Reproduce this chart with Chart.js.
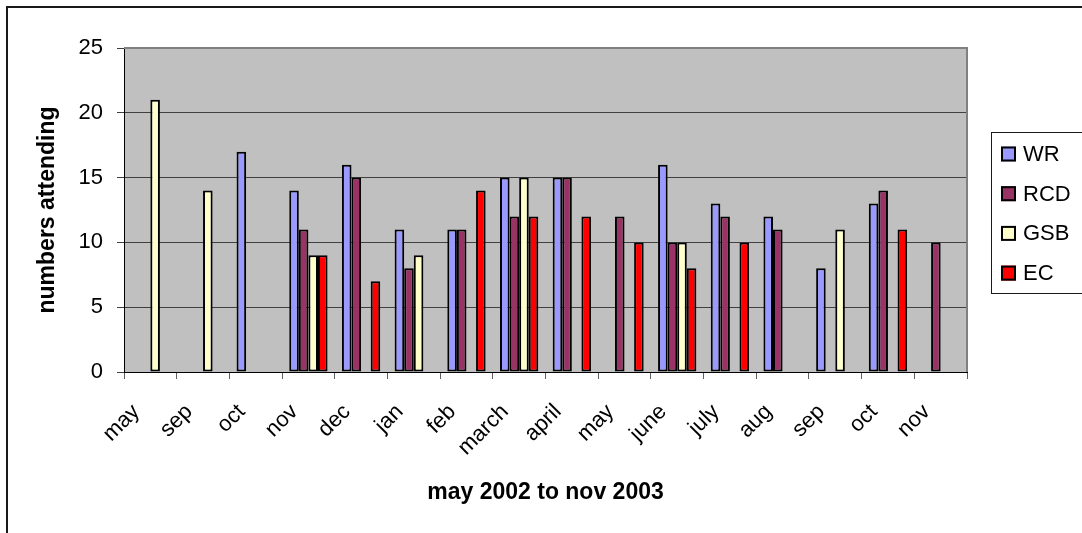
<!DOCTYPE html>
<html>
<head>
<meta charset="utf-8">
<script src="https://cdn.jsdelivr.net/npm/chart.js@4/dist/chart.umd.min.js"></script>
<style>
  html, body { margin: 0; padding: 0; background: #ffffff; }
  #wrap { width: 1082px; height: 533px; }
</style>
</head>
<body>
<div id="wrap"><canvas id="c" width="1082" height="533"></canvas></div>
<script>
// Attendance per meeting, May 2002 – Nov 2003
const categories = ['may', 'sep', 'oct', 'nov', 'dec', 'jan', 'feb', 'march', 'april', 'may', 'june', 'july', 'aug', 'sep', 'oct', 'nov'];
const wr  = [null, null, 17, 14, 16, 11, 11, 15, 15, null, 16, 13, 12, 8, 13, null];
const rcd = [null, null, null, 11, 15, 8, 11, 12, 15, 12, 10, 12, 11, null, 14, 10];
const gsb = [21, 14, null, 9, null, 9, null, 15, null, null, 10, null, null, 11, null, null];
const ec  = [null, null, null, 9, 7, null, 14, 12, 12, 10, 8, 10, null, null, 11, null];
const yTicks = [0, 5, 10, 15, 20, 25];

const FONT = "'Liberation Sans', Arial, sans-serif";

// Chart frame, grey plot background and the boxed legend on the right
const framePlugin = {
  id: 'frame',
  beforeDraw(chart) {
    const { ctx, chartArea: a } = chart;
    ctx.save();
    ctx.fillStyle = '#ffffff';
    ctx.fillRect(0, 0, chart.width, chart.height);
    ctx.strokeStyle = '#1a1a1a';
    ctx.lineWidth = 2;
    ctx.strokeRect(7, 7, chart.width + 20, chart.height + 20);
    ctx.fillStyle = '#c0c0c0';
    ctx.fillRect(a.left, a.top, a.right - a.left, a.bottom - a.top);
    ctx.restore();
  },
  afterDraw(chart) {
    const { ctx, chartArea: a } = chart;
    ctx.save();
    ctx.strokeStyle = '#808080';
    ctx.lineWidth = 2;
    ctx.beginPath();
    ctx.moveTo(a.left, a.top);
    ctx.lineTo(a.right, a.top);
    ctx.lineTo(a.right, a.bottom);
    ctx.stroke();

    // legend
    const lx = 991, ly = 132, lw = 140, lh = 161;
    ctx.strokeStyle = '#1a1a1a';
    ctx.lineWidth = 1;
    ctx.strokeRect(lx + 0.5, ly + 0.5, lw, lh);
    ctx.font = '22px ' + FONT;
    ctx.textBaseline = 'middle';
    ctx.textAlign = 'left';
    chart.data.datasets.forEach((ds, i) => {
      const cy = 154 + i * 39.7;
      ctx.fillStyle = ds.backgroundColor;
      ctx.fillRect(1001, cy - 7.5, 15, 15);
      ctx.strokeStyle = '#000';
      ctx.lineWidth = 2;
      ctx.strokeRect(1002, cy - 6.5, 13, 13);
      ctx.fillStyle = '#000';
      ctx.fillText(ds.label, 1023, cy + 1);
    });
    ctx.restore();
  }
};

const barStyle = { borderColor: '#000000', borderWidth: 2, borderSkipped: false, categoryPercentage: 4 / 5.5, barPercentage: 1.0 };

new Chart(document.getElementById('c'), {
  type: 'bar',
  data: {
    labels: categories,
    datasets: [
      Object.assign({ label: 'WR',  data: wr,  backgroundColor: '#9999ff' }, barStyle),
      Object.assign({ label: 'RCD', data: rcd, backgroundColor: '#993366' }, barStyle),
      Object.assign({ label: 'GSB', data: gsb, backgroundColor: '#ffffcc' }, barStyle),
      Object.assign({ label: 'EC',  data: ec,  backgroundColor: '#ff0000' }, barStyle)
    ]
  },
  options: {
    responsive: false,
    animation: false,
    layout: { padding: { left: 0, top: 48, right: 115, bottom: 0 } },
    plugins: {
      legend: { display: false },
      tooltip: { enabled: false }
    },
    scales: {
      x: {
        afterFit(s) { s.height = 161; },
        grid: { offset: true, drawOnChartArea: false, drawTicks: true, tickLength: 7, color: '#606060', lineWidth: 1 },
        border: { color: '#000000', width: 1 },
        ticks: { color: '#000', font: { family: FONT, size: 22 }, minRotation: 45, maxRotation: 45, padding: 20, labelOffset: -14, autoSkip: false },
        title: { display: true, text: 'may 2002 to nov 2003', color: '#000', font: { family: FONT, size: 23, weight: 'bold' }, padding: { top: 0, bottom: 27 } }
      },
      y: {
        min: 0, max: 25,
        afterFit(s) { s.width = 124; },
        afterBuildTicks(s) { s.ticks = yTicks.map(v => ({ value: v })); },
        grid: {
          color: (c) => (c.tick && c.tick.value === 25 ? '#808080' : '#404040'),
          tickColor: '#404040',
          tickLength: 7,
          lineWidth: 1
        },
        border: { color: '#000000', width: 1 },
        ticks: { color: '#000', font: { family: FONT, size: 22 }, padding: 14 },
        title: { display: true, text: 'numbers attending', color: '#000', font: { family: FONT, size: 23, weight: 'bold' }, padding: { top: 34, bottom: 0 } }
      }
    }
  },
  plugins: [framePlugin]
});
</script>
</body>
</html>
